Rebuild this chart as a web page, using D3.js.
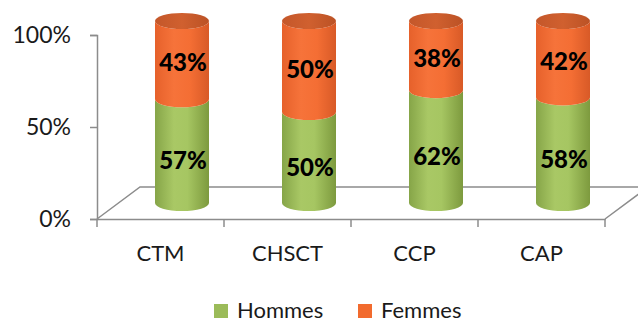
<!DOCTYPE html>
<html><head><meta charset="utf-8">
<script src="https://cdn.jsdelivr.net/npm/d3@7"></script>
<style>body{margin:0;background:#fff}svg{display:block}</style>
</head><body>
<svg id="c" width="638" height="323"></svg>
<script>
const categories = ["CTM", "CHSCT", "CCP", "CAP"];
const hommes = [0.57, 0.50, 0.62, 0.58];
const femmes = [0.43, 0.50, 0.38, 0.42];
const yTicks = [0, 0.5, 1];
const seriesNames = ["Hommes", "Femmes"];

const svg = d3.select("#c");
const font = "Lato, 'Open Sans', sans-serif";
const grid = "#8c8c8c";

const y = d3.scaleLinear().domain([0, 1]).range([219, 35]);
const yc = d3.scaleLinear().domain([0, 1]).range([203, 21]);
const x = d3.scaleBand().domain(categories).range([97, 605]).padding(0);
const depthX = 43, depthY = 32;

// floor
const f0 = y(0);
svg.append("path")
  .attr("d", `M${x.range()[0]},${f0} L${x.range()[0]+depthX},${f0-depthY} L${x.range()[1]+depthX},${f0-depthY} L${x.range()[1]},${f0}`)
  .attr("fill", "none").attr("stroke", grid).attr("stroke-width", 1.5);

// y axis
const ya = svg.append("g").attr("transform", "translate(97,0)")
  .call(d3.axisLeft(y).tickValues(yTicks).tickSize(7).tickPadding(19).tickFormat(d3.format(".0%")));
ya.select(".domain").attr("stroke", grid).attr("stroke-width", 1.5);
ya.selectAll(".tick line").attr("stroke", grid).attr("stroke-width", 1.5);
ya.selectAll(".tick text").attr("font-family", font).attr("font-size", 23).attr("fill", "#1a1a1a");

// x axis
const xa = svg.append("g").attr("transform", `translate(0,${f0})`)
  .call(d3.axisBottom(x).tickSize(0).tickPadding(26));
xa.select(".domain").attr("stroke", grid).attr("stroke-width", 1.5);
xa.selectAll(".tick text").attr("font-family", font).attr("font-size", 22).attr("fill", "#1a1a1a");
const bounds = categories.map(c => x(c)).concat([x.range()[1]]);
svg.append("g").selectAll("line").data(bounds).join("line")
  .attr("x1", d => d).attr("x2", d => d).attr("y1", f0).attr("y2", f0 + 8)
  .attr("stroke", grid).attr("stroke-width", 1.5);

// gradients
const defs = svg.append("defs");
function grad(id, stops) {
  const g = defs.append("linearGradient").attr("id", id).attr("x1", "0%").attr("x2", "100%").attr("y1", "0%").attr("y2", "0%");
  stops.forEach(s => g.append("stop").attr("offset", s[0]).attr("stop-color", s[1]));
}
grad("gG", [["0%", "#86a548"], ["35%", "#a9c865"], ["60%", "#a6c662"], ["100%", "#7d9a3e"]]);
grad("gO", [["0%", "#e6612b"], ["35%", "#f6733a"], ["65%", "#f46e34"], ["100%", "#d85a27"]]);
grad("gT", [["0%", "#c4572a"], ["50%", "#d0602f"], ["100%", "#bb5225"]]);

const rx = 27, ry = 8;
function seg(cx, yt, yb) {
  return `M${cx-rx},${yt} A${rx},${ry} 0 0 0 ${cx+rx},${yt} L${cx+rx},${yb} A${rx},${ry} 0 0 1 ${cx-rx},${yb} Z`;
}

const cyl = svg.append("g");
categories.forEach((c, i) => {
  const cx = x(c) + x.bandwidth() / 2 + depthX / 2;
  const b = yc(hommes[i]);
  const t = yc(hommes[i] + femmes[i]);
  cyl.append("path").attr("d", seg(cx, b, yc(0))).attr("fill", "url(#gG)");
  cyl.append("path").attr("d", seg(cx, t, b)).attr("fill", "url(#gO)");
  cyl.append("ellipse").attr("cx", cx).attr("cy", t).attr("rx", rx).attr("ry", ry).attr("fill", "url(#gT)");
  const fmt = d3.format(".0%");
  cyl.append("text").attr("x", cx + 1).attr("y", (yc(0) + b) / 2 + 18)
    .attr("text-anchor", "middle").attr("font-family", font).attr("font-weight", "900").attr("font-size", 24)
    .attr("fill", "#000").text(fmt(hommes[i]));
  cyl.append("text").attr("x", cx + 1).attr("y", (t + b) / 2 + 11)
    .attr("text-anchor", "middle").attr("font-family", font).attr("font-weight", "900").attr("font-size", 24)
    .attr("fill", "#000").text(fmt(femmes[i]));
});

// legend
const legColors = ["#9bbb59", "#f26b2e"];
const legX = [214, 358];
const lg = svg.append("g");
seriesNames.forEach((s, i) => {
  lg.append("rect").attr("x", legX[i]).attr("y", 304).attr("width", 14).attr("height", 14).attr("fill", legColors[i]);
  lg.append("text").attr("x", legX[i] + 23).attr("y", 318).attr("font-family", font).attr("font-size", 22)
    .attr("fill", "#1a1a1a").text(s);
});
</script>
</body></html>
